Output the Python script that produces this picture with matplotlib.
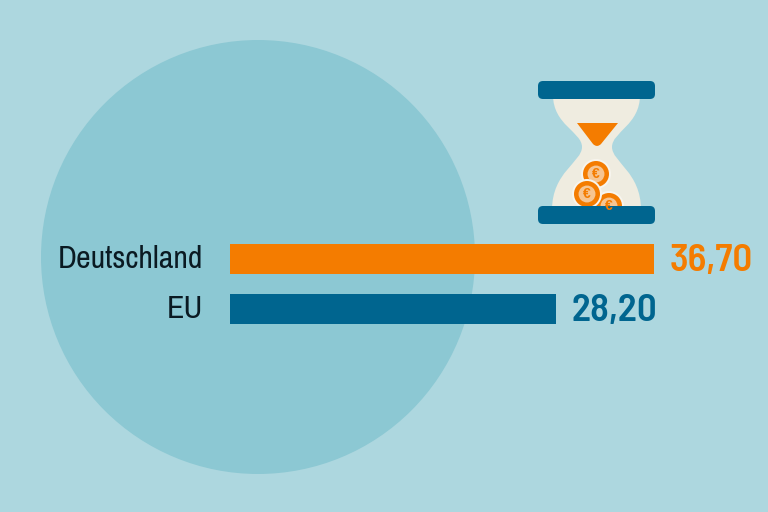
import matplotlib
matplotlib.use("Agg")
import matplotlib.pyplot as plt
from matplotlib.patches import Circle, FancyBboxPatch, PathPatch
from matplotlib.path import Path
from matplotlib.font_manager import fontManager
from matplotlib.transforms import ScaledTranslation

categories = ["Deutschland", "EU"]
values = [36.70, 28.20]

BG = "#ADD7DF"
CIRCLE = "#8CC8D3"
ORANGE = "#F47C00"
BLUE = "#00658F"
CREAM = "#EFECE0"
COIN_IN = "#F6C592"

names = {f.name for f in fontManager.ttflist}


def pick(*fams):
    for fam in fams:
        if fam in names:
            return fam
    return "Liberation Sans"


label_font = pick("Pragati Narrow", "Archivo Narrow", "Roboto Condensed", "PT Sans Narrow")
value_font = pick("Barlow Semi Condensed", "Barlow Condensed", "Roboto Condensed")

fig = plt.figure(figsize=(7.68, 5.12), dpi=100, facecolor=BG)

# decoration layer, in pixels
deco = fig.add_axes([0, 0, 1, 1])
deco.set_xlim(0, 768)
deco.set_ylim(512, 0)
deco.axis("off")
deco.add_patch(Circle((258, 257), 217, fc=CIRCLE, ec="none"))

# glass of the hourglass
verts = [(553, 95), (553, 125), (582, 132), (582, 147),
         (582, 162), (552, 172), (552, 210),
         (641, 210), (641, 172), (612, 162), (612, 147),
         (612, 132), (640, 125), (640, 95), (553, 95)]
codes = [Path.MOVETO, Path.CURVE4, Path.CURVE4, Path.CURVE4,
         Path.CURVE4, Path.CURVE4, Path.CURVE4,
         Path.LINETO, Path.CURVE4, Path.CURVE4, Path.CURVE4,
         Path.CURVE4, Path.CURVE4, Path.CURVE4, Path.CLOSEPOLY]
deco.add_patch(PathPatch(Path(verts, codes), fc=CREAM, ec="none"))

# funnel
funnel = [(577, 123), (618, 123), (601, 144), (597, 148), (593, 144), (577, 123)]
fcodes = [Path.MOVETO, Path.LINETO, Path.LINETO, Path.CURVE3, Path.CURVE3, Path.CLOSEPOLY]
deco.add_patch(PathPatch(Path(funnel, fcodes), fc=ORANGE, ec="none"))

# coins
for cx, cy, r in [(596, 174, 13), (609, 206, 13), (587, 194, 13)]:
    deco.add_patch(Circle((cx, cy), r + 2, fc="#F7F5EE", ec="none"))
    deco.add_patch(Circle((cx, cy), r, fc=ORANGE, ec="none"))
    deco.add_patch(Circle((cx, cy), r * 0.65, fc=COIN_IN, ec="none"))
    deco.text(cx, cy, "€", color=ORANGE, fontsize=10, fontweight="bold",
              ha="center", va="center", family="Liberation Sans")

# caps
for y0 in (81, 206):
    deco.add_patch(FancyBboxPatch((538, y0), 117, 18,
                                  boxstyle="round,pad=0,rounding_size=5",
                                  fc=BLUE, ec="none"))

# bars: axes covers the plot band so the library scales the values
left = 230 / 768
width = 424 / 768
ax = fig.add_axes([left, 1 - 324 / 512, width, 80 / 512])
ax.patch.set_alpha(0)
colors = [ORANGE, BLUE]
ypos = [1, 0]
ax.barh(ypos, values, height=0.6, color=colors)
ax.set_xlim(0, values[0])
ax.set_ylim(-0.3, 1.3)
for s in ax.spines.values():
    s.set_visible(False)
ax.set_xticks([])
ax.set_yticks(ypos, categories, fontsize=25, family=label_font, color="#0A1A22")
ax.tick_params(axis="y", length=0, pad=19)
for lab in ax.get_yticklabels():
    lab.set_transform(lab.get_transform() + ScaledTranslation(0, 3 / 100, fig.dpi_scale_trans))

for y, v, c in zip(ypos, values, colors):
    ax.annotate(f"{v:.2f}".replace(".", ","), (v, y), xytext=(11.5, 1),
                textcoords="offset points", ha="left", va="center_baseline",
                fontsize=28, fontweight="semibold", color=c,
                family=value_font)

fig.savefig("out.png", dpi=100, facecolor=BG)
